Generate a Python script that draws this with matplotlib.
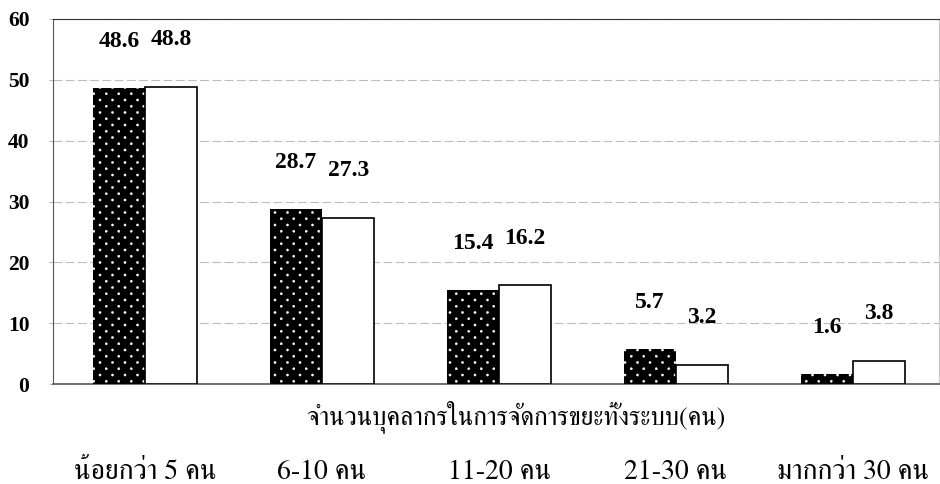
import numpy as np
import matplotlib
matplotlib.use('Agg')
import matplotlib.pyplot as plt
from matplotlib import hatch as mhatch
from matplotlib.path import Path

# share of respondents (%) by number of waste-management staff
categories = ['น้อยกว่า 5 คน', '6-10 คน', '11-20 คน', '21-30 คน', 'มากกว่า 30 คน']
dotted_vals = [48.6, 28.7, 15.4, 5.7, 1.6]
white_vals = [48.8, 27.3, 16.2, 3.2, 3.8]
y_ticks = [0, 10, 20, 30, 40, 50, 60]
x_title = 'จำนวนบุคลากรในการจัดการขยะทั้งระบบ(คน)'


# '.' hatch as a staggered dot screen: rows twice as dense as columns
class StaggeredDots(mhatch.HatchPatternBase):
    size = 0.011

    def __init__(self, hatch, density):
        self.ncols = hatch.count('.') * 8
        self.nrows = 2 * self.ncols
        circle = Path.unit_circle()
        self.shape_vertices = circle.vertices * self.size
        self.shape_codes = circle.codes
        n_shapes = (self.nrows // 2 + 1) * (self.ncols + 1) + (self.nrows // 2) * self.ncols
        self.num_vertices = n_shapes * len(self.shape_vertices) if self.ncols else 0

    def set_vertices_and_codes(self, vertices, codes):
        verts, cods = [], []
        for row in range(self.nrows + 1):
            y = row / self.nrows
            if row % 2 == 0:
                xs = np.linspace(0, 1, self.ncols + 1)
            else:
                xs = (np.arange(self.ncols) + 0.5) / self.ncols
            for x in xs:
                verts.append(self.shape_vertices + [x, y])
                cods.append(self.shape_codes)
        np.concatenate(verts, out=vertices)
        np.concatenate(cods, out=codes)


mhatch._hatch_types[mhatch._hatch_types.index(mhatch.SmallFilledCircles)] = StaggeredDots
plt.rcParams['hatch.linewidth'] = 0.3

num_font = 'Liberation Serif'
thai_font = ['FreeSerif', 'DejaVu Sans']

fig = plt.figure(figsize=(9.4, 4.84), dpi=100)
ax = fig.add_axes([53 / 940, 1 - 384 / 484, 886 / 940, 365 / 484])

x = np.arange(len(categories))
w = 0.295
b1 = ax.bar(x - w / 2, dotted_vals, w, color='black', edgecolor='white',
            linewidth=0, hatch='.', zorder=3)
b2 = ax.bar(x + w / 2, white_vals, w, color='white', edgecolor='black',
            linewidth=1.2, zorder=3)

for bars, vals in [(b1, dotted_vals), (b2, white_vals)]:
    for rect, v in zip(bars, vals):
        ax.annotate(f'{v:.1f}', (rect.get_x() + rect.get_width() / 2, v),
                    xytext=(0, 34), textcoords='offset points',
                    ha='center', va='center', fontsize=17, fontweight='bold',
                    family=num_font)

ax.set_ylim(0, 60)
ax.set_xlim(-0.52, 4.486)
ax.set_yticks(y_ticks)
ax.set_yticklabels([str(t) for t in y_ticks], fontsize=15.5, fontweight='bold',
                   family=num_font)
ax.tick_params(axis='y', length=3, color='#bbbbbb', pad=14)

ax.set_xticks(x)
ax.set_xticklabels(categories, fontsize=20, family=thai_font)
ax.tick_params(axis='x', length=0, pad=64)
for lbl in ax.get_xticklabels():
    lbl.set_va('center')

ax.set_xlabel(x_title, fontsize=18.5, family=thai_font, va='center')
ax.xaxis.set_label_coords(0.5226, -0.09)

ax.yaxis.grid(True, color='#bdbdbd', linewidth=0.8, linestyle=(0, (8, 3)))
ax.set_axisbelow(True)

ax.spines['top'].set_color('#333333')
ax.spines['left'].set_color('#555555')
ax.spines['bottom'].set_color('#555555')
ax.spines['bottom'].set_linewidth(1.2)
ax.spines['right'].set_color('#c8c8c8')

fig.savefig('out.png', dpi=100)
